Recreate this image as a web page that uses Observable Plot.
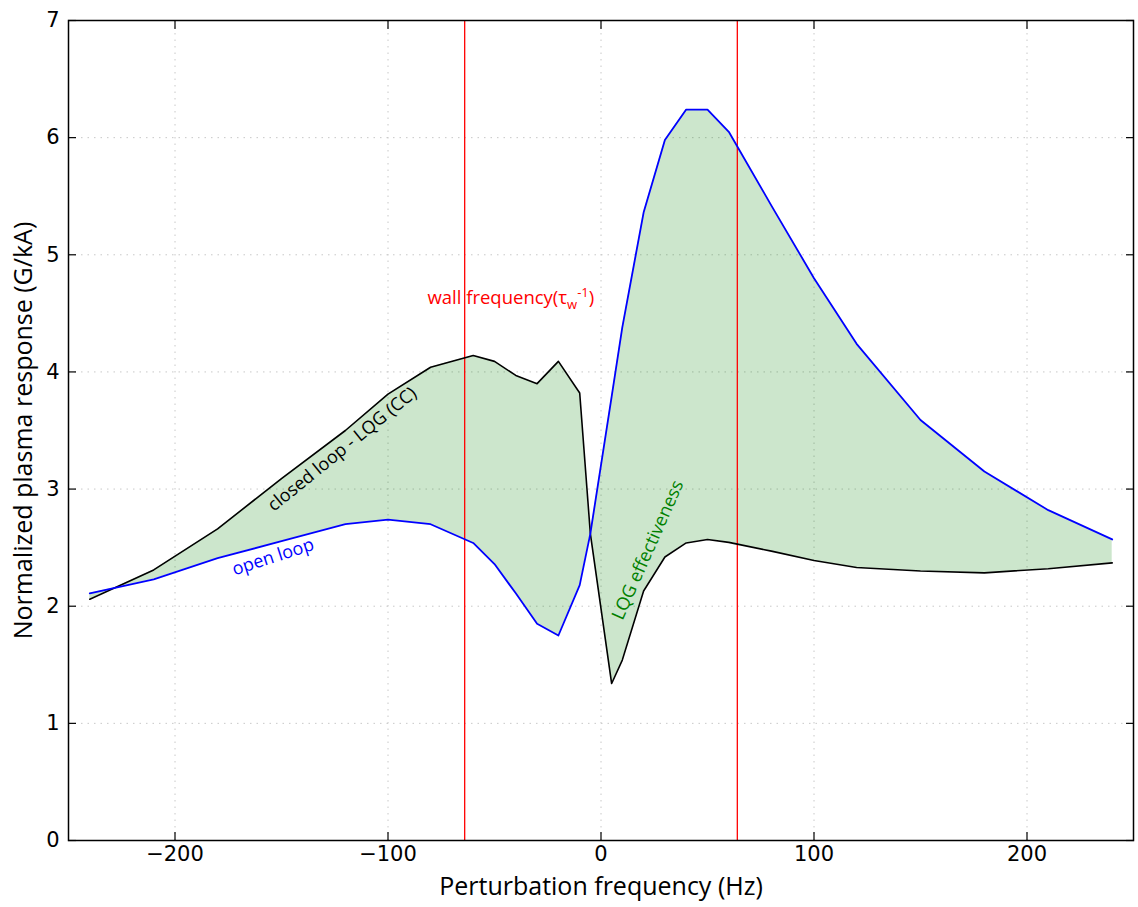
<!DOCTYPE html>
<html>
<head>
<meta charset="utf-8">
<script src="https://cdn.jsdelivr.net/npm/d3@7"></script>
<script src="https://cdn.jsdelivr.net/npm/@observablehq/plot@0.6"></script>
<style>
  body { margin: 0; background: #fff; }
  #chart svg { display: block; }
</style>
</head>
<body>
<div id="chart"></div>
<script>
// Perturbation frequency (Hz) sampled for both responses
const freq = [-240, -210, -180, -150, -120, -100, -80, -60, -50, -40, -30, -20, -10, -5,
              5, 10, 20, 30, 40, 50, 60, 80, 100, 120, 150, 180, 210, 240];
// Normalized plasma response (G/kA), open loop
const openLoop = [2.11, 2.23, 2.41, 2.555, 2.70, 2.74, 2.70, 2.54, 2.36, 2.11, 1.85, 1.75, 2.18, 2.62,
                  3.79, 4.38, 5.36, 5.98, 6.24, 6.24, 6.05, 5.42, 4.80, 4.24, 3.59, 3.15, 2.82, 2.57];
// Normalized plasma response (G/kA), closed loop with LQG control
const closedLoop = [2.06, 2.31, 2.66, 3.09, 3.50, 3.81, 4.04, 4.14, 4.09, 3.97, 3.90, 4.09, 3.82, 2.62,
                    1.34, 1.54, 2.13, 2.42, 2.54, 2.57, 2.545, 2.47, 2.39, 2.33, 2.30, 2.285, 2.32, 2.37];
// Wall frequency markers (±1/τw)
const wallFreq = [-64, 64];
const xTicks = [-200, -100, 0, 100, 200];
const yTicks = [0, 1, 2, 3, 4, 5, 6, 7];
const xGrid = [-200, -100, 0, 100, 200];
const yGrid = [1, 2, 3, 4, 5, 6];

const rows = freq.map((f, i) => ({f, open: openLoop[i], closed: closedLoop[i]}));

const labelFont = "'Open Sans', 'DejaVu Sans', sans-serif";
const tickFont = 21;
const noText = () => "";

const chart = Plot.plot({
  width: 1138,
  height: 907,
  marginLeft: 68,
  marginRight: 5,
  marginTop: 20,
  marginBottom: 67,
  x: {domain: [-250, 250]},
  y: {domain: [0, 7]},
  style: {fontFamily: "'DejaVu Sans', sans-serif", background: "white", color: "black"},
  marks: [
    Plot.gridX(xGrid, {stroke: "#c8c8c8", strokeOpacity: 1, strokeDasharray: "1.5,5", strokeWidth: 1}),
    Plot.gridY(yGrid, {stroke: "#c8c8c8", strokeOpacity: 1, strokeDasharray: "1.5,5", strokeWidth: 1}),
    Plot.areaY(rows, {x: "f", y1: "open", y2: "closed", fill: "green", fillOpacity: 0.2}),
    Plot.ruleX(wallFreq, {stroke: "red", strokeWidth: 1.3}),
    Plot.line(rows, {x: "f", y: "closed", stroke: "black", strokeWidth: 1.6}),
    Plot.line(rows, {x: "f", y: "open", stroke: "blue", strokeWidth: 1.8}),
    // inward ticks on all four sides
    Plot.axisX(xTicks, {anchor: "bottom", tickSize: -8, tickFormat: noText, label: null, strokeWidth: 1.2}),
    Plot.axisX(xTicks, {anchor: "top", tickSize: -8, tickFormat: noText, label: null, strokeWidth: 1.2}),
    Plot.axisY(yTicks, {anchor: "left", tickSize: -8, tickFormat: noText, label: null, strokeWidth: 1.2}),
    Plot.axisY(yTicks, {anchor: "right", tickSize: -8, tickFormat: noText, label: null, strokeWidth: 1.2}),
    // tick labels
    Plot.axisX(xTicks, {anchor: "bottom", tickSize: 0, tickPadding: 6, label: null, fontSize: tickFont}),
    Plot.axisY(yTicks, {anchor: "left", tickSize: 0, tickPadding: 9, label: null, fontSize: tickFont, tickFormat: d => String(d)}),
    Plot.frame({stroke: "black", strokeWidth: 1.5}),
    // axis titles
    Plot.text(["Perturbation frequency (Hz)"], {frameAnchor: "bottom", dy: 54, fontSize: 25, fontFamily: labelFont, fill: "black"}),
    Plot.text(["Normalized plasma response (G/kA)"], {frameAnchor: "left", textAnchor: "middle", dx: -45, rotate: -90, fontSize: 25, fontFamily: labelFont, fill: "black"}),
    // annotations
    Plot.text(["wall frequency(τw-1)"], {x: () => -81.5, y: () => 4.63, textAnchor: "start", fontSize: 18.5, fontFamily: labelFont, fill: "red"}),
    Plot.text(["closed loop - LQG (CC)"], {x: () => -121.5, y: () => 3.34, rotate: -39, fontSize: 18, fontFamily: labelFont, fill: "black"}),
    Plot.text(["open loop"], {x: () => -154, y: () => 2.42, rotate: -18, fontSize: 18, fontFamily: labelFont, fill: "blue"}),
    Plot.text(["LQG effectiveness"], {x: () => 22, y: () => 2.48, rotate: -66, fontSize: 18, fontFamily: labelFont, fill: "green"})
  ]
});

document.getElementById("chart").appendChild(chart);

// subscript / superscript in the wall-frequency label
d3.select(chart).selectAll("text")
  .filter(function () { return this.textContent === "wall frequency(τw-1)"; })
  .each(function () {
    const t = d3.select(this);
    t.text(null);
    t.append("tspan").text("wall frequency(τ");
    t.append("tspan").attr("dy", 5).attr("font-size", 13).text("w");
    t.append("tspan").attr("dy", -12).attr("font-size", 13).text("-1");
    t.append("tspan").attr("dy", 7).text(")");
  });
</script>
</body>
</html>
